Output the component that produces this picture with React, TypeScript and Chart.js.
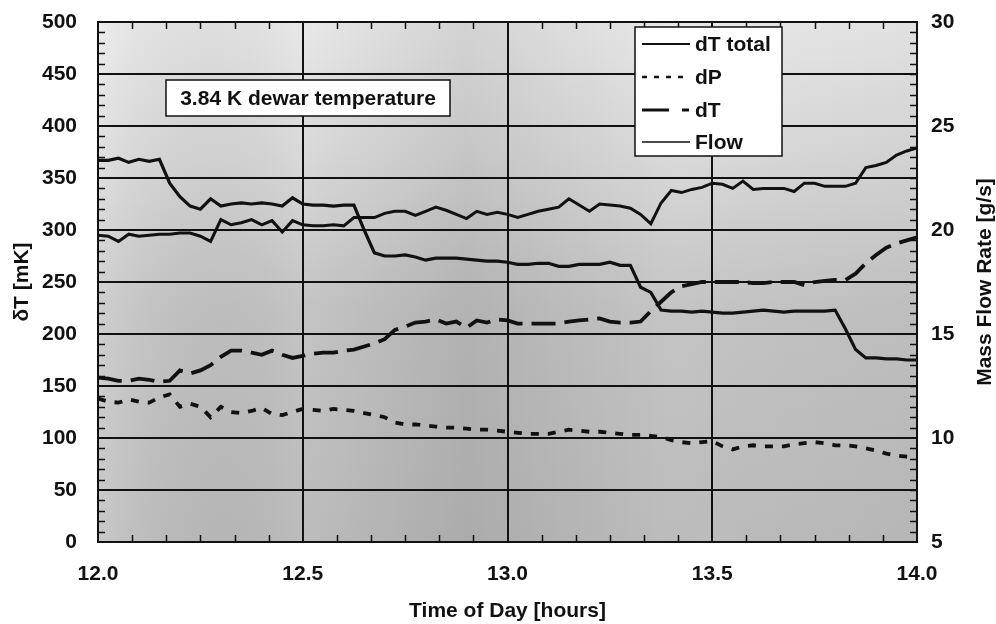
import React, { useEffect, useRef } from "react";
import { Chart, registerables } from "chart.js";

Chart.register(...registerables);

// ---- Data ----
const timeHours = [
  12.0, 12.025, 12.05, 12.075, 12.1, 12.125, 12.15, 12.175, 12.2, 12.225,
  12.25, 12.275, 12.3, 12.325, 12.35, 12.375, 12.4, 12.425, 12.45, 12.475,
  12.5, 12.525, 12.55, 12.575, 12.6, 12.625, 12.65, 12.675, 12.7, 12.725,
  12.75, 12.775, 12.8, 12.825, 12.85, 12.875, 12.9, 12.925, 12.95, 12.975,
  13.0, 13.025, 13.05, 13.075, 13.1, 13.125, 13.15, 13.175, 13.2, 13.225,
  13.25, 13.275, 13.3, 13.325, 13.35, 13.375, 13.4, 13.425, 13.45, 13.475,
  13.5, 13.525, 13.55, 13.575, 13.6, 13.625, 13.65, 13.675, 13.7, 13.725,
  13.75, 13.775, 13.8, 13.825, 13.85, 13.875, 13.9, 13.925, 13.95, 13.975,
  14.0,
];

// dT total [mK]
const dTTotal = [
  367, 367, 369, 365, 368, 366, 368, 345, 332, 323,
  320, 330, 323, 325, 326, 325, 326, 325, 323, 331,
  325, 324, 324, 323, 324, 324, 300, 278, 275, 275,
  276, 274, 271, 273, 273, 273, 272, 271, 270, 270,
  269, 267, 267, 268, 268, 265, 265, 267, 267, 267,
  269, 266, 266, 245, 240, 223, 222, 222, 221, 222,
  221, 220, 220, 221, 222, 223, 222, 221, 222, 222,
  222, 222, 223, 205, 185, 177, 177, 176, 176, 175,
  175,
];

// dP [mK]
const dP = [
  138, 135, 134, 137, 135, 134, 139, 142, 130, 133,
  130, 120, 130, 125, 124, 126, 129, 123, 122, 125,
  128, 127, 126, 128, 127, 126, 124, 122, 120, 115,
  113, 113, 112, 111, 110, 110, 109, 108, 108, 107,
  106, 105, 104, 104, 104, 106, 108, 107, 106, 106,
  105, 104, 103, 103, 102, 101, 98, 96, 95, 96,
  97, 92, 89, 92, 93, 92, 92, 92, 94, 95,
  96, 95, 93, 93, 92, 90, 88, 85, 83, 82,
  81,
];

// dT [mK]
const dT = [
  158, 157, 155, 155, 157, 156, 154, 155, 165, 162,
  165, 170, 178, 184, 184, 182, 180, 184, 180, 177,
  179, 181, 182, 182, 184, 185, 188, 191, 195, 204,
  207, 211, 212, 214, 210, 212, 206, 213, 211, 214,
  213, 210, 210, 210, 210, 210, 212, 213, 214, 215,
  212, 211, 211, 212, 222, 231, 240, 246, 248, 250,
  250, 250, 250, 250, 249, 249, 250, 250, 250, 247,
  250, 251, 252, 252, 258, 268, 276, 283, 287, 290,
  293,
];

// Mass flow rate [g/s]
const flow = [
  19.75, 19.7, 19.45, 19.8, 19.7, 19.75, 19.8, 19.8, 19.85, 19.85,
  19.7, 19.45, 20.5, 20.25, 20.35, 20.5, 20.25, 20.45, 19.9, 20.45,
  20.25, 20.2, 20.2, 20.25, 20.2, 20.6, 20.6, 20.6, 20.8, 20.9,
  20.9, 20.7, 20.9, 21.1, 20.95, 20.75, 20.55, 20.9, 20.75, 20.85,
  20.75, 20.6, 20.75, 20.9, 21.0, 21.1, 21.5, 21.2, 20.9, 21.25,
  21.2, 21.15, 21.05, 20.75, 20.3, 21.3, 21.9, 21.8, 21.95, 22.05,
  22.25, 22.2, 22.0, 22.35, 21.95, 22.0, 22.0, 22.0, 21.85, 22.25,
  22.25, 22.1, 22.1, 22.1, 22.25, 23.0, 23.1, 23.25, 23.6, 23.8,
  23.95,
];

const xRange = [12.0, 14.0];
const xStep = 0.5;
const xMinorStep = 1 / 12; // 5 minutes
const leftRange = [0, 500];
const leftStep = 50;
const leftMinorStep = 10;
const rightRange = [5, 30];
const rightStep = 5;
const rightMinorStep = 0.5;

const legendLabels = ["dT total", "dP", "dT", "Flow"];
const annotationText = "3.84 K dewar temperature";
const xTitle = "Time of Day [hours]";
const leftTitle = "δT [mK]";
const rightTitle = "Mass Flow Rate [g/s]";

const FONT = "'Liberation Sans', Arial, Helvetica, sans-serif";
const INK = "#111111";

const pts = (ys: number[]) => timeHours.map((t, i) => ({ x: t, y: ys[i] }));

const backgroundPlugin = {
  id: "plotBackground",
  beforeDraw(chart: any) {
    const { ctx, chartArea: ca } = chart;
    ctx.save();
    const g = ctx.createLinearGradient(0, ca.top, 0, ca.bottom);
    g.addColorStop(0, "#e8e8e8");
    g.addColorStop(0.25, "#d9d9d9");
    g.addColorStop(0.55, "#c4c4c4");
    g.addColorStop(1, "#bcbcbc");
    ctx.fillStyle = g;
    ctx.fillRect(ca.left, ca.top, ca.right - ca.left, ca.bottom - ca.top);
    const h = ctx.createLinearGradient(ca.left, 0, ca.right, 0);
    h.addColorStop(0, "rgba(255,255,255,0.18)");
    h.addColorStop(0.25, "rgba(0,0,0,0.0)");
    h.addColorStop(0.45, "rgba(0,0,0,0.09)");
    h.addColorStop(0.7, "rgba(0,0,0,0.0)");
    h.addColorStop(1, "rgba(0,0,0,0.03)");
    ctx.fillStyle = h;
    ctx.fillRect(ca.left, ca.top, ca.right - ca.left, ca.bottom - ca.top);
    ctx.restore();
  },
};

const decorPlugin = {
  id: "decor",
  afterDraw(chart: any) {
    const { ctx, chartArea: ca, scales } = chart;
    const yS = scales.y;
    const y2S = scales.y2;
    const xS = scales.x;
    ctx.save();
    // minor tick marks (inside)
    ctx.strokeStyle = INK;
    ctx.lineWidth = 1.5;
    ctx.beginPath();
    const nL = Math.round((leftRange[1] - leftRange[0]) / leftMinorStep);
    for (let k = 0; k <= nL; k++) {
      const v = leftRange[0] + k * leftMinorStep;
      if (Math.abs(v % leftStep) < 1e-6) continue;
      const py = Math.round(yS.getPixelForValue(v)) + 0.5;
      ctx.moveTo(ca.left, py);
      ctx.lineTo(ca.left + 7, py);
    }
    const nR = Math.round((rightRange[1] - rightRange[0]) / rightMinorStep);
    for (let k = 0; k <= nR; k++) {
      const v = rightRange[0] + k * rightMinorStep;
      if (k % Math.round(rightStep / rightMinorStep) === 0) continue;
      const py = Math.round(y2S.getPixelForValue(v)) + 0.5;
      ctx.moveTo(ca.right - 7, py);
      ctx.lineTo(ca.right, py);
    }
    const nX = Math.round((xRange[1] - xRange[0]) / xMinorStep);
    for (let k = 0; k <= nX; k++) {
      if (k % Math.round(xStep / xMinorStep) === 0) continue;
      const v = xRange[0] + k * xMinorStep;
      const px = Math.round(xS.getPixelForValue(v)) + 0.5;
      ctx.moveTo(px, ca.bottom);
      ctx.lineTo(px, ca.bottom - 7);
      ctx.moveTo(px, ca.top);
      ctx.lineTo(px, ca.top + 7);
    }
    ctx.stroke();

    // right axis title (reads bottom-to-top)
    ctx.fillStyle = INK;
    ctx.font = `bold 21px ${FONT}`;
    ctx.textAlign = "center";
    ctx.textBaseline = "middle";
    ctx.save();
    ctx.translate(ca.right + 68, (ca.top + ca.bottom) / 2);
    ctx.rotate(-Math.PI / 2);
    ctx.fillText(rightTitle, 0, 0);
    ctx.restore();

    // annotation box
    const ax = ca.left + 68;
    const ay = ca.top + 58;
    const aw = 284;
    const ah = 36;
    ctx.fillStyle = "#ffffff";
    ctx.fillRect(ax, ay, aw, ah);
    ctx.strokeStyle = INK;
    ctx.lineWidth = 1.5;
    ctx.strokeRect(ax, ay, aw, ah);
    ctx.fillStyle = INK;
    ctx.font = `bold 21px ${FONT}`;
    ctx.textAlign = "center";
    ctx.fillText(annotationText, ax + aw / 2, ay + ah / 2 + 1);

    // legend box
    const lx = ca.left + 537;
    const ly = ca.top + 5;
    const lw = 147;
    const lh = 129;
    ctx.fillStyle = "#ffffff";
    ctx.fillRect(lx, ly, lw, lh);
    ctx.strokeStyle = INK;
    ctx.lineWidth = 1.5;
    ctx.strokeRect(lx, ly, lw, lh);
    const rows = [17, 50, 83, 115];
    const samples = [
      { dash: [] as number[], width: 2 },
      { dash: [5, 7], width: 2.5 },
      { dash: [27, 13, 7, 60], width: 3 },
      { dash: [] as number[], width: 1.5 },
    ];
    legendLabels.forEach((lab, i) => {
      const yy = ly + rows[i];
      ctx.strokeStyle = INK;
      ctx.lineWidth = samples[i].width;
      ctx.setLineDash(samples[i].dash);
      ctx.beginPath();
      ctx.moveTo(lx + 7, yy);
      ctx.lineTo(lx + 55, yy);
      ctx.stroke();
      ctx.setLineDash([]);
      ctx.fillStyle = INK;
      ctx.textAlign = "left";
      ctx.font = `bold 21px ${FONT}`;
      ctx.fillText(lab, lx + 60, yy + 1);
    });
    ctx.restore();
  },
};

export default function App() {
  const ref = useRef<HTMLCanvasElement | null>(null);

  useEffect(() => {
    if (!ref.current) return;
    const chart = new Chart(ref.current, {
      type: "line",
      data: {
        datasets: [
          {
            label: legendLabels[0],
            data: pts(dTTotal),
            borderColor: INK,
            borderWidth: 3.2,
            pointRadius: 0,
            tension: 0,
            yAxisID: "y",
          },
          {
            label: legendLabels[1],
            data: pts(dP),
            borderColor: INK,
            borderWidth: 3.8,
            borderDash: [8, 9],
            pointRadius: 0,
            tension: 0,
            yAxisID: "y",
          },
          {
            label: legendLabels[2],
            data: pts(dT),
            borderColor: INK,
            borderWidth: 3.8,
            borderDash: [24, 9],
            pointRadius: 0,
            tension: 0,
            yAxisID: "y",
          },
          {
            label: legendLabels[3],
            data: pts(flow),
            borderColor: INK,
            borderWidth: 3,
            pointRadius: 0,
            tension: 0,
            yAxisID: "y2",
          },
        ],
      },
      options: {
        responsive: false,
        animation: false,
        devicePixelRatio: 1,
        layout: { padding: { top: 22, left: 0, right: 0, bottom: 0 } },
        plugins: { legend: { display: false }, tooltip: { enabled: false } },
        scales: {
          x: {
            type: "linear",
            min: xRange[0],
            max: xRange[1],
            afterFit: (s: any) => {
              s.height = 82;
              s.paddingLeft = 0;
              s.paddingRight = 0;
            },
            ticks: {
              stepSize: xStep,
              padding: 20,
              color: INK,
              font: { family: FONT, size: 21, weight: "bold" },
              callback: (v: any) => Number(v).toFixed(1),
            },
            grid: { color: INK, lineWidth: 2, drawTicks: false },
            border: { display: true, color: INK, width: 2 },
            title: {
              display: true,
              text: xTitle,
              color: INK,
              font: { family: FONT, size: 21, weight: "bold" },
              padding: { top: 0, bottom: 0 },
            },
          },
          y: {
            type: "linear",
            position: "left",
            min: leftRange[0],
            max: leftRange[1],
            afterFit: (s: any) => {
              s.width = 98;
              s.paddingTop = 0;
              s.paddingBottom = 0;
            },
            ticks: {
              stepSize: leftStep,
              padding: 21,
              color: INK,
              font: { family: FONT, size: 21, weight: "bold" },
            },
            grid: { color: INK, lineWidth: 2, drawTicks: false },
            border: { display: true, color: INK, width: 2 },
            title: {
              display: true,
              text: leftTitle,
              color: INK,
              font: { family: FONT, size: 21, weight: "bold" },
              padding: { top: 10, bottom: 0 },
            },
          },
          y2: {
            type: "linear",
            position: "right",
            min: rightRange[0],
            max: rightRange[1],
            afterFit: (s: any) => {
              s.width = 79;
              s.paddingTop = 0;
              s.paddingBottom = 0;
            },
            ticks: {
              stepSize: rightStep,
              padding: 14,
              color: INK,
              font: { family: FONT, size: 21, weight: "bold" },
            },
            grid: { display: false, drawTicks: false },
            border: { display: true, color: INK, width: 2 },
          },
        },
      },
      plugins: [backgroundPlugin, decorPlugin],
    } as any);
    return () => chart.destroy();
  }, []);

  return (
    <div style={{ position: "absolute", left: 0, top: 0, width: 996, height: 624, background: "#ffffff" }}>
      <canvas ref={ref} width={996} height={624} style={{ display: "block" }} />
    </div>
  );
}
